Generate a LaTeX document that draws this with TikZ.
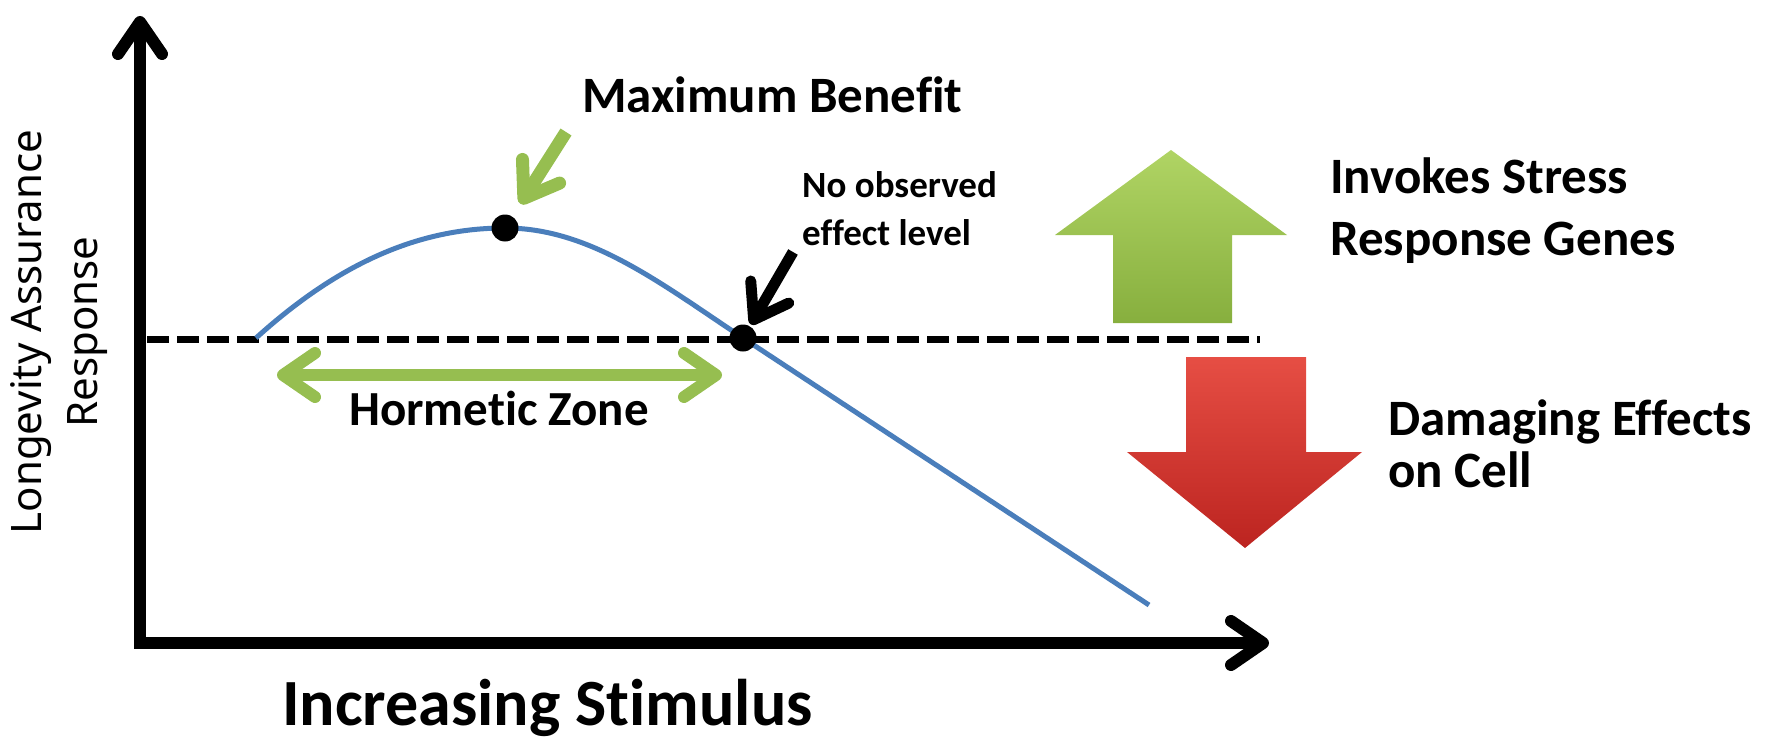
\documentclass[tikz,border=0pt]{standalone}
\usepackage{fontspec}
\setmainfont{Carlito}[Ligatures=NoCommon]
\newfontfamily\ylabelfont{Noto Sans}
\usetikzlibrary{arrows.meta}

\definecolor{curveblue}{RGB}{74,126,187}
\definecolor{zonegreen}{RGB}{150,190,80}
\definecolor{upgreenlt}{RGB}{176,212,100}
\definecolor{upgreendk}{RGB}{135,175,62}
\definecolor{downredlt}{RGB}{230,78,68}
\definecolor{downreddk}{RGB}{188,36,32}

\begin{document}
\begin{tikzpicture}[x=1pt,y=-1pt,
  barb/.style={-{Straight Barb[length=32pt,width=44pt,line cap=round,line join=round]}},
  dbarb/.style={{Straight Barb[length=32pt,width=44pt,line cap=round,line join=round]}-{Straight Barb[length=32pt,width=44pt,line cap=round,line join=round]}},
  dot/.style={circle,fill=black,inner sep=0pt,minimum size=27pt},
  txt/.style={font=\bfseries\fontsize{51}{62}\selectfont,align=left,inner sep=0pt,anchor=base west}]
  \useasboundingbox (0,0) rectangle (1779,741);

  % axes
  \coordinate (O) at (140,643);
  \coordinate (ytop) at (140,16);
  \coordinate (xend) at (1269,643);
  \draw[line width=12pt,dbarb] (ytop) -- (O) -- (xend);

  % no-effect level (dashed)
  \coordinate (dl) at (147,339);
  \coordinate (dr) at (1260,339);
  \draw[line width=7pt,dash pattern=on 22pt off 8pt] (dl) -- (dr);

  % response curve, peak and crossing marked with dots
  \coordinate (pk) at (505,228);
  \coordinate (cx) at (743,338);
  \coordinate (cstart) at (256,338);
  \coordinate (cend) at (1149,605);
  \draw[curveblue,line width=5pt]
    (cstart) .. controls (340,262) and (420,228) .. (pk)
    .. controls (590,228) and (660,283) .. (cx) -- (cend);
  \node[dot] (peak) at (pk) {};
  \node[dot] (noel) at (cx) {};

  % labels at the two points (base = last line)
  \node[txt] (maxben) at (582,113) {Maximum Benefit};
  \coordinate (mbtail) at (566,132);
  \draw[zonegreen,line width=13pt,barb,shorten >=15pt] (mbtail) -- (peak);

  \node[txt,font=\bfseries\fontsize{37}{48}\selectfont] (noeltxt) at (802,245) {No observed\\effect level};
  \coordinate (noeltail) at (793,252);
  \draw[line width=11pt,barb,shorten >=2pt] (noeltail) -- (noel);

  % hormetic zone
  \coordinate (hzl) at (277,375);
  \coordinate (hzr) at (722,375);
  \draw[zonegreen,line width=12pt,dbarb] (hzl) -- (hzr);
  \node[txt,font=\bfseries\fontsize{49}{58}\selectfont] (horm) at (349,425) {Hormetic Zone};

  % block arrows (up: stress response, down: damage)
  \shade[top color=upgreenlt,bottom color=upgreendk]
    (1113,323) -- (1113,235) -- (1055,235) -- (1171,150) -- (1287,235) -- (1232,235) -- (1232,323) -- cycle;
  \shade[top color=downredlt,bottom color=downreddk]
    (1186,357) -- (1306,357) -- (1306,452) -- (1362,452) -- (1245,548) -- (1127,452) -- (1186,452) -- cycle;
  \node[txt] (invokes) at (1330,255) {Invokes Stress\\Response Genes};
  \node[txt,font=\bfseries\fontsize{51}{52}\selectfont] (damaging) at (1388,487) {Damaging Effects\\on Cell};

  % axis titles
  \node[txt,font=\bfseries\fontsize{66}{70}\selectfont] (xlabel) at (282,725) {Increasing Stimulus};
  \node[rotate=90,font=\ylabelfont\fontsize{42}{56}\selectfont,align=center,inner sep=0pt] (ylabel) at (59,332) {Longevity Assurance\\Response};
\end{tikzpicture}
\end{document}
